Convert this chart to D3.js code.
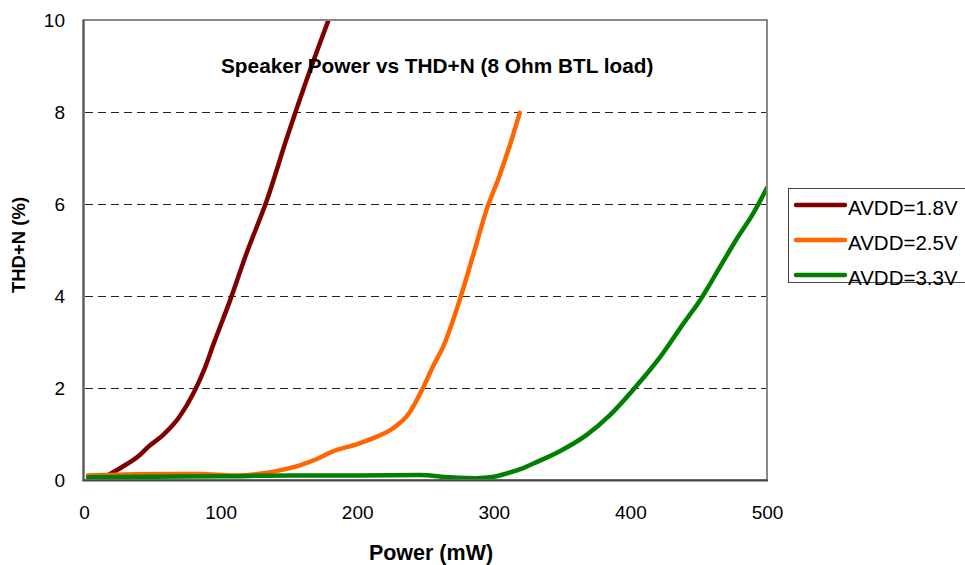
<!DOCTYPE html>
<html>
<head>
<meta charset="utf-8">
<script src="https://cdn.jsdelivr.net/npm/d3@7/dist/d3.min.js"></script>
<style>
  html, body { margin: 0; padding: 0; background: #fff; }
  svg { display: block; font-family: "Liberation Sans", Arial, sans-serif; }
</style>
</head>
<body>
<svg id="chart" width="965" height="565"></svg>
<script>
// ---- data ----
const seriesNames = ["AVDD=1.8V", "AVDD=2.5V", "AVDD=3.3V"];
const seriesColors = ["#800000", "#FF6600", "#008000"];

// [Power (mW), THD+N (%)]
const avdd18 = [[5,0.05],[15,0.08],[22,0.18],[30,0.32],[40,0.52],[47,0.72],[58,0.98],[70,1.38],[80,1.88],[88,2.4],[95,2.97],[107,3.91],[119,4.93],[134,6.09],[148,7.39],[163,8.7],[179,10]];
const avdd25 = [[3,0.1],[30,0.12],[60,0.13],[85,0.13],[110,0.1],[130,0.14],[145,0.22],[158,0.32],[170,0.45],[182,0.62],[200,0.78],[215,0.95],[226,1.12],[238,1.45],[248,1.99],[256,2.5],[263,2.9],[275,3.91],[285,4.9],[295,5.9],[304,6.6],[312,7.3],[319,7.98]];
const avdd33 = [[3,0.06],[50,0.07],[100,0.08],[150,0.1],[200,0.1],[246,0.11],[268,0.06],[287,0.04],[300,0.07],[309,0.14],[320,0.24],[329,0.36],[348,0.62],[368,0.98],[385,1.41],[402,1.96],[422,2.68],[439,3.41],[451,3.91],[465,4.6],[477,5.2],[490,5.8],[500,6.35]];

const xTicks = [0, 100, 200, 300, 400, 500];
const yTicks = [0, 2, 4, 6, 8, 10];
const titleText = "Speaker Power vs THD+N (8 Ohm BTL load)";
const xTitle = "Power (mW)";
const yTitle = "THD+N (%)";

const seriesData = [avdd18, avdd25, avdd33];

// ---- layout ----
const svg = d3.select("#chart");
const plot = { left: 84, right: 767, top: 20, bottom: 480 };

const x = d3.scaleLinear().domain([0, 500]).range([plot.left, plot.right]);
const y = d3.scaleLinear().domain([0, 10]).range([plot.bottom, plot.top]);

// gridlines
svg.append("g")
  .selectAll("line")
  .data(yTicks.filter(d => d > 0 && d < 10))
  .join("line")
  .attr("x1", plot.left + 1).attr("x2", plot.right)
  .attr("y1", d => y(d) + 0.5).attr("y2", d => y(d) + 0.5)
  .attr("stroke", "#222").attr("stroke-width", 1)
  .attr("stroke-dasharray", "8,5");

// y axis labels
const yAxis = d3.axisLeft(y).tickValues(yTicks).tickSize(0).tickPadding(19).tickFormat(d3.format("d"));
const gy = svg.append("g").attr("transform", `translate(${plot.left},0)`).call(yAxis);
gy.select(".domain").remove();
gy.selectAll("text").attr("font-size", 19).attr("fill", "#000")
  .attr("font-family", "Liberation Sans, Arial, sans-serif");

// x axis labels
const xAxis = d3.axisBottom(x).tickValues(xTicks).tickSize(0).tickPadding(0).tickFormat(d3.format("d"));
const gx = svg.append("g").attr("transform", `translate(0,${plot.bottom})`).call(xAxis);
gx.select(".domain").remove();
gx.selectAll("text").attr("font-size", 19).attr("fill", "#000")
  .attr("font-family", "Liberation Sans, Arial, sans-serif")
  .attr("dy", null).attr("y", 39);

// clip
svg.append("clipPath").attr("id", "clip")
  .append("rect")
  .attr("x", plot.left).attr("y", plot.top)
  .attr("width", plot.right - plot.left).attr("height", plot.bottom - plot.top);

const line = d3.line()
  .x(d => x(d[0])).y(d => y(d[1]))
  .curve(d3.curveMonotoneX);

svg.append("g").attr("clip-path", "url(#clip)")
  .selectAll("path")
  .data(seriesData)
  .join("path")
  .attr("d", line)
  .attr("fill", "none")
  .attr("stroke", (d, i) => seriesColors[i])
  .attr("stroke-width", 4.5)
  .attr("stroke-linejoin", "round")
  .attr("stroke-linecap", "round");

// frame
svg.append("rect")
  .attr("x", plot.left - 0.5).attr("y", plot.top)
  .attr("width", plot.right - plot.left + 0.5).attr("height", plot.bottom - plot.top)
  .attr("fill", "none").attr("stroke", "#888").attr("stroke-width", 2);
svg.append("line")
  .attr("x1", plot.left - 1.5).attr("x2", plot.right + 1)
  .attr("y1", plot.bottom + 0.5).attr("y2", plot.bottom + 0.5)
  .attr("stroke", "#444").attr("stroke-width", 2);
svg.append("line")
  .attr("x1", plot.left - 0.5).attr("x2", plot.left - 0.5)
  .attr("y1", plot.top).attr("y2", plot.bottom + 1)
  .attr("stroke", "#555").attr("stroke-width", 2);

// title
svg.append("text")
  .attr("x", 221).attr("y", 73)
  .attr("font-size", 20.8).attr("font-weight", "bold").attr("fill", "#000")
  .text(titleText);

// axis titles
svg.append("text")
  .attr("x", 431).attr("y", 560).attr("text-anchor", "middle")
  .attr("font-size", 21.5).attr("font-weight", "bold").attr("fill", "#000")
  .text(xTitle);

svg.append("text")
  .attr("transform", "translate(25,245) rotate(-90)")
  .attr("text-anchor", "middle")
  .attr("font-size", 18.5).attr("font-weight", "bold").attr("fill", "#000")
  .text(yTitle);

// legend
const legend = svg.append("g");
legend.append("rect")
  .attr("x", 788.5).attr("y", 188.5).attr("width", 185).attr("height", 94)
  .attr("fill", "#fff").attr("stroke", "#444").attr("stroke-width", 1);
const items = legend.selectAll("g.item")
  .data(seriesNames)
  .join("g").attr("class", "item")
  .attr("transform", (d, i) => `translate(0,${205 + i * 35})`);
items.append("line")
  .attr("x1", 796).attr("x2", 845).attr("y1", 0).attr("y2", 0)
  .attr("stroke", (d, i) => seriesColors[i]).attr("stroke-width", 4.5)
  .attr("stroke-linecap", "round");
items.append("text")
  .attr("x", 848).attr("y", 10)
  .attr("font-size", 20.5).attr("fill", "#000")
  .text(d => d);
</script>
</body>
</html>
